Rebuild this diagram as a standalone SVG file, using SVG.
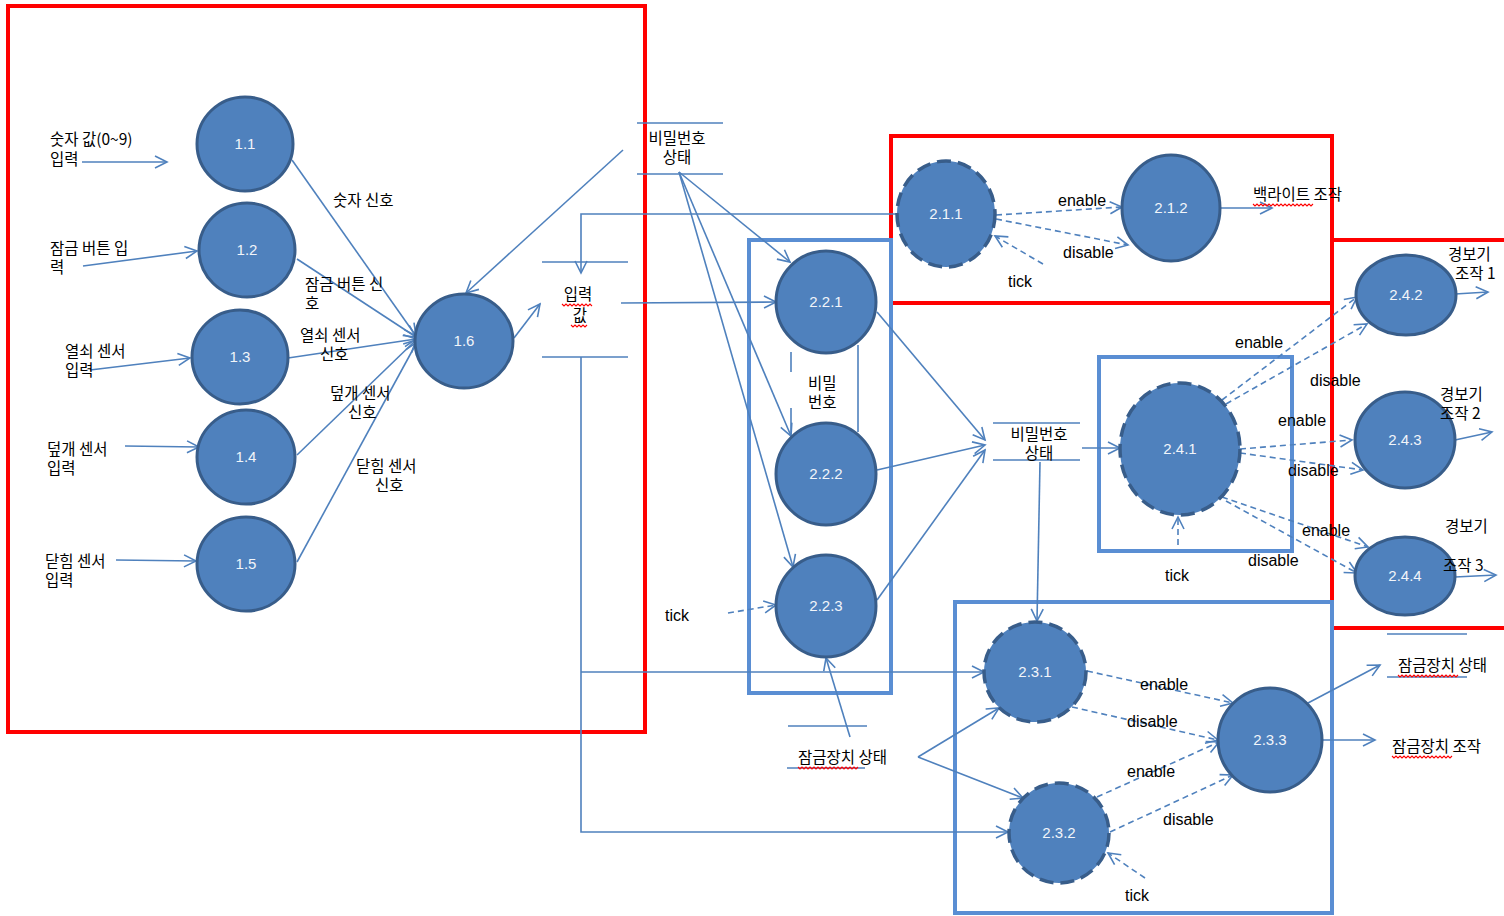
<svg xmlns="http://www.w3.org/2000/svg" width="1504" height="916" viewBox="0 0 1504 916">
<defs>
<marker id="arr" markerUnits="userSpaceOnUse" markerWidth="16" markerHeight="16" refX="13" refY="7" orient="auto" viewBox="0 0 16 14">
<path d="M1,1 L13,7 L1,13" fill="none" stroke="#4f81bd" stroke-width="1.6"/>
</marker>
<style>
.ln{fill:none;stroke:#4f81bd;stroke-width:1.6}
.dl{fill:none;stroke:#4f81bd;stroke-width:1.6;stroke-dasharray:6 4}
.a{marker-end:url(#arr)}
.red{fill:none;stroke:#ff0000;stroke-width:4}
.bb{fill:none;stroke:#5a8ed3;stroke-width:4}
.nd{fill:#4f81bd;stroke:#385d8a;stroke-width:3}
.nds{fill:#4f81bd;stroke:#385d8a;stroke-width:3.5;stroke-dasharray:14 7}
.nl{font-family:"Liberation Sans",Arial,sans-serif;font-size:15px;fill:#f2f5fa;text-anchor:middle}
.kr{font-family:"Noto Sans CJK KR","Noto Sans",sans-serif;font-size:15.5px;fill:#000}
.en{font-family:"Liberation Sans",Arial,sans-serif;font-size:16px;fill:#000}
.st{fill:none;stroke:#4f81bd;stroke-width:1.6}
.wv{fill:none;stroke:#ff0000;stroke-width:1.1}
</style>
</defs>
<rect width="1504" height="916" fill="#ffffff"/>

<!-- boundary boxes -->
<g id="boxes">
<rect class="red" x="8" y="6" width="637" height="726"/>
<path class="red" d="M891,303 V136 H1332 V303 Z"/>
<path class="red" d="M1332,240 H1506 M1332,240 V628 H1506"/>
<rect class="bb" x="749" y="240" width="142" height="453"/>
<rect class="bb" x="1099" y="357" width="193" height="194"/>
<rect class="bb" x="955" y="602" width="377" height="311"/>
</g>

<!-- connectors -->
<g id="connectors">
<line class="ln a" x1="82" y1="162" x2="167" y2="162"/>
<line class="ln a" x1="83" y1="266" x2="197" y2="251"/>
<line class="ln a" x1="90" y1="370" x2="190" y2="358"/>
<line class="ln a" x1="125" y1="446" x2="199" y2="447"/>
<line class="ln a" x1="116" y1="560" x2="196" y2="561"/>
<line class="ln a" x1="292" y1="160" x2="416" y2="336"/>
<line class="ln a" x1="297" y1="259" x2="416" y2="337"/>
<line class="ln a" x1="288" y1="358" x2="416" y2="339"/>
<line class="ln a" x1="297" y1="455" x2="416" y2="340"/>
<line class="ln a" x1="297" y1="562" x2="417" y2="342"/>
<line class="ln a" x1="514" y1="338" x2="540" y2="304"/>
<line class="ln a" x1="623" y1="150" x2="466" y2="293"/>
<polyline class="ln a" points="897,214 581,214 581,273"/>
<line class="ln a" x1="621" y1="303" x2="776" y2="302"/>
<polyline class="ln a" points="581,357 581,832 1008,832"/>
<line class="ln a" x1="581" y1="672" x2="984" y2="672"/>
<line class="ln a" x1="679" y1="172" x2="790" y2="262"/>
<line class="ln a" x1="679" y1="172" x2="791" y2="436"/>
<line class="ln a" x1="679" y1="172" x2="793" y2="567"/>
<line class="ln" x1="791" y1="352" x2="791" y2="372"/>
<line class="ln" x1="791" y1="408" x2="791" y2="434"/>
<line class="ln" x1="858" y1="345" x2="858" y2="432"/>
<line class="dl a" x1="728" y1="613" x2="776" y2="605"/>
<line class="ln a" x1="850" y1="737" x2="826" y2="658"/>
<line class="ln a" x1="918" y1="757" x2="999" y2="708"/>
<line class="ln a" x1="918" y1="757" x2="1023" y2="798"/>
<line class="ln a" x1="877" y1="312" x2="985" y2="440"/>
<line class="ln a" x1="877" y1="470" x2="985" y2="445"/>
<line class="ln a" x1="877" y1="600" x2="985" y2="450"/>
<line class="ln a" x1="1082" y1="448" x2="1120" y2="448"/>
<line class="ln a" x1="1040" y1="462" x2="1037" y2="621"/>
<line class="dl a" x1="996" y1="215" x2="1122" y2="207"/>
<line class="dl a" x1="996" y1="219" x2="1128" y2="245"/>
<line class="dl a" x1="1043" y1="264" x2="995" y2="236"/>
<line class="ln a" x1="1220" y1="208" x2="1272" y2="208"/>
<line class="dl a" x1="1222" y1="400" x2="1357" y2="297"/>
<line class="dl a" x1="1226" y1="404" x2="1367" y2="324"/>
<line class="dl a" x1="1240" y1="449" x2="1352" y2="440"/>
<line class="dl a" x1="1240" y1="453" x2="1363" y2="470"/>
<line class="dl a" x1="1222" y1="497" x2="1368" y2="547"/>
<line class="dl a" x1="1226" y1="501" x2="1357" y2="573"/>
<line class="dl a" x1="1178" y1="545" x2="1178" y2="517"/>
<line class="ln a" x1="1455" y1="294" x2="1488" y2="292"/>
<line class="ln a" x1="1455" y1="440" x2="1492" y2="432"/>
<line class="ln a" x1="1455" y1="577" x2="1496" y2="575"/>
<line class="dl a" x1="1087" y1="671" x2="1233" y2="703"/>
<line class="dl a" x1="1072" y1="707" x2="1218" y2="740"/>
<line class="dl a" x1="1097" y1="797" x2="1219" y2="742"/>
<line class="dl a" x1="1110" y1="832" x2="1233" y2="775"/>
<line class="dl a" x1="1145" y1="878" x2="1108" y2="853"/>
<line class="ln a" x1="1308" y1="703" x2="1380" y2="665"/>
<line class="ln a" x1="1323" y1="740" x2="1375" y2="740"/>
</g>

<!-- data stores -->
<g id="store-pw1">
<line class="st" x1="637" y1="123" x2="723" y2="123"/>
<line class="st" x1="637" y1="174" x2="723" y2="174"/>
<text class="kr" text-anchor="middle"><tspan x="677" y="144">비밀번호</tspan><tspan x="677" y="163">상태</tspan></text>
</g>
<g id="store-input">
<line class="st" x1="542" y1="262" x2="628" y2="262"/>
<line class="st" x1="542" y1="357" x2="628" y2="357"/>
<text class="kr" text-anchor="middle"><tspan x="578" y="300">입력</tspan><tspan x="580" y="321">값</tspan></text>
<path class="wv" d="M562,304 l2,2 l2,-2 l2,2 l2,-2 l2,2 l2,-2 l2,2 l2,-2 l2,2 l2,-2 l2,2 l2,-2 l2,2 l2,-2 l2,2"/>
<path class="wv" d="M571,325 l2,2 l2,-2 l2,2 l2,-2 l2,2 l2,-2 l2,2 l2,-2"/>
</g>
<g id="store-pw2">
<line class="st" x1="993" y1="423" x2="1080" y2="423"/>
<line class="st" x1="993" y1="460" x2="1080" y2="460"/>
<text class="kr" text-anchor="middle"><tspan x="1039" y="440">비밀번호</tspan><tspan x="1039" y="459">상태</tspan></text>
</g>
<g id="store-lock1">
<line class="st" x1="788" y1="726" x2="867" y2="726"/>
<line class="st" x1="787" y1="768" x2="865" y2="768"/>
<text class="kr" x="798" y="763">잠금장치 상태</text>
<path class="wv" d="M798,767 l2,2 l2,-2 l2,2 l2,-2 l2,2 l2,-2 l2,2 l2,-2 l2,2 l2,-2 l2,2 l2,-2 l2,2 l2,-2 l2,2 l2,-2 l2,2 l2,-2 l2,2 l2,-2 l2,2 l2,-2 l2,2 l2,-2 l2,2 l2,-2 l2,2 l2,-2 l2,2 l2,-2"/>
</g>
<g id="store-lock2">
<line class="st" x1="1387" y1="634" x2="1467" y2="634"/>
<line class="st" x1="1387" y1="677" x2="1467" y2="677"/>
<text class="kr" x="1398" y="671">잠금장치 상태</text>
<path class="wv" d="M1398,675 l2,2 l2,-2 l2,2 l2,-2 l2,2 l2,-2 l2,2 l2,-2 l2,2 l2,-2 l2,2 l2,-2 l2,2 l2,-2 l2,2 l2,-2 l2,2 l2,-2 l2,2 l2,-2 l2,2 l2,-2 l2,2 l2,-2 l2,2 l2,-2 l2,2 l2,-2 l2,2 l2,-2"/>
</g>

<!-- nodes -->
<g id="n1_1"><ellipse class="nd" cx="245" cy="144" rx="48" ry="47"/><text class="nl" x="245" y="149">1.1</text></g>
<g id="n1_2"><ellipse class="nd" cx="247" cy="250" rx="48" ry="47"/><text class="nl" x="247" y="255">1.2</text></g>
<g id="n1_3"><ellipse class="nd" cx="240" cy="357" rx="48" ry="47"/><text class="nl" x="240" y="362">1.3</text></g>
<g id="n1_4"><ellipse class="nd" cx="246" cy="457" rx="49" ry="47"/><text class="nl" x="246" y="462">1.4</text></g>
<g id="n1_5"><ellipse class="nd" cx="246" cy="564" rx="49" ry="47"/><text class="nl" x="246" y="569">1.5</text></g>
<g id="n1_6"><ellipse class="nd" cx="464" cy="341" rx="49" ry="47"/><text class="nl" x="464" y="346">1.6</text></g>
<g id="n2_1_1"><ellipse class="nds" cx="946" cy="214" rx="49" ry="53"/><text class="nl" x="946" y="219">2.1.1</text></g>
<g id="n2_1_2"><ellipse class="nd" cx="1171" cy="208" rx="49" ry="53"/><text class="nl" x="1171" y="213">2.1.2</text></g>
<g id="n2_2_1"><ellipse class="nd" cx="826" cy="302" rx="50" ry="51"/><text class="nl" x="826" y="307">2.2.1</text></g>
<g id="n2_2_2"><ellipse class="nd" cx="826" cy="474" rx="50" ry="51"/><text class="nl" x="826" y="479">2.2.2</text></g>
<g id="n2_2_3"><ellipse class="nd" cx="826" cy="606" rx="50" ry="51"/><text class="nl" x="826" y="611">2.2.3</text></g>
<g id="n2_4_1"><ellipse class="nds" cx="1180" cy="449" rx="60" ry="66"/><text class="nl" x="1180" y="454">2.4.1</text></g>
<g id="n2_4_2"><ellipse class="nd" cx="1406" cy="295" rx="50" ry="40"/><text class="nl" x="1406" y="300">2.4.2</text></g>
<g id="n2_4_3"><ellipse class="nd" cx="1405" cy="440" rx="50" ry="48"/><text class="nl" x="1405" y="445">2.4.3</text></g>
<g id="n2_4_4"><ellipse class="nd" cx="1405" cy="576" rx="50" ry="39"/><text class="nl" x="1405" y="581">2.4.4</text></g>
<g id="n2_3_1"><ellipse class="nds" cx="1035" cy="672" rx="51" ry="50"/><text class="nl" x="1035" y="677">2.3.1</text></g>
<g id="n2_3_2"><ellipse class="nds" cx="1059" cy="833" rx="50" ry="50"/><text class="nl" x="1059" y="838">2.3.2</text></g>
<g id="n2_3_3"><ellipse class="nd" cx="1270" cy="740" rx="52" ry="52"/><text class="nl" x="1270" y="745">2.3.3</text></g>

<!-- labels -->
<g id="labels">
<text class="kr"><tspan x="50" y="145">숫자 값(0~9)</tspan><tspan x="50" y="165">입력</tspan></text>
<text class="kr"><tspan x="50" y="254">잠금 버튼 입</tspan><tspan x="50" y="273">력</tspan></text>
<text class="kr"><tspan x="65" y="357">열쇠 센서</tspan><tspan x="65" y="376">입력</tspan></text>
<text class="kr"><tspan x="47" y="455">덮개 센서</tspan><tspan x="47" y="474">입력</tspan></text>
<text class="kr"><tspan x="45" y="567">닫힘 센서</tspan><tspan x="45" y="586">입력</tspan></text>
<text class="kr" x="333" y="206">숫자 신호</text>
<text class="kr"><tspan x="305" y="290">잠금 버튼 신</tspan><tspan x="305" y="309">호</tspan></text>
<text class="kr"><tspan x="300" y="341">열쇠 센서</tspan><tspan x="320" y="360">신호</tspan></text>
<text class="kr"><tspan x="330" y="399">덮개 센서</tspan><tspan x="348" y="418">신호</tspan></text>
<text class="kr"><tspan x="356" y="472">닫힘 센서</tspan><tspan x="375" y="491">신호</tspan></text>
<text class="kr"><tspan x="808" y="389">비밀</tspan><tspan x="808" y="408">번호</tspan></text>
<text class="en" x="665" y="621">tick</text>
<text class="en" x="1058" y="206">enable</text>
<text class="en" x="1063" y="258">disable</text>
<text class="en" x="1008" y="287">tick</text>
<text class="kr" x="1253" y="200">백라이트 조작</text>
<path class="wv" d="M1253,204 l2,2 l2,-2 l2,2 l2,-2 l2,2 l2,-2 l2,2 l2,-2 l2,2 l2,-2 l2,2 l2,-2 l2,2 l2,-2 l2,2 l2,-2 l2,2 l2,-2 l2,2 l2,-2 l2,2 l2,-2 l2,2 l2,-2 l2,2 l2,-2 l2,2 l2,-2 l2,2 l2,-2"/>
<text class="en" x="1235" y="348">enable</text>
<text class="en" x="1310" y="386">disable</text>
<text class="en" x="1278" y="426">enable</text>
<text class="en" x="1288" y="476">disable</text>
<text class="en" x="1302" y="536">enable</text>
<text class="en" x="1248" y="566">disable</text>
<text class="en" x="1165" y="581">tick</text>
<text class="kr"><tspan x="1448" y="260">경보기</tspan><tspan x="1455" y="279">조작 1</tspan></text>
<text class="kr"><tspan x="1440" y="400">경보기</tspan><tspan x="1440" y="419">조작 2</tspan></text>
<text class="kr"><tspan x="1445" y="532">경보기</tspan><tspan x="1443" y="571">조작 3</tspan></text>
<text class="en" x="1140" y="690">enable</text>
<text class="en" x="1127" y="727">disable</text>
<text class="en" x="1127" y="777">enable</text>
<text class="en" x="1163" y="825">disable</text>
<text class="en" x="1125" y="901">tick</text>
<text class="kr" x="1392" y="752">잠금장치 조작</text>
<path class="wv" d="M1392,756 l2,2 l2,-2 l2,2 l2,-2 l2,2 l2,-2 l2,2 l2,-2 l2,2 l2,-2 l2,2 l2,-2 l2,2 l2,-2 l2,2 l2,-2 l2,2 l2,-2 l2,2 l2,-2 l2,2 l2,-2 l2,2 l2,-2 l2,2 l2,-2 l2,2 l2,-2 l2,2 l2,-2"/>
</g>
</svg>
